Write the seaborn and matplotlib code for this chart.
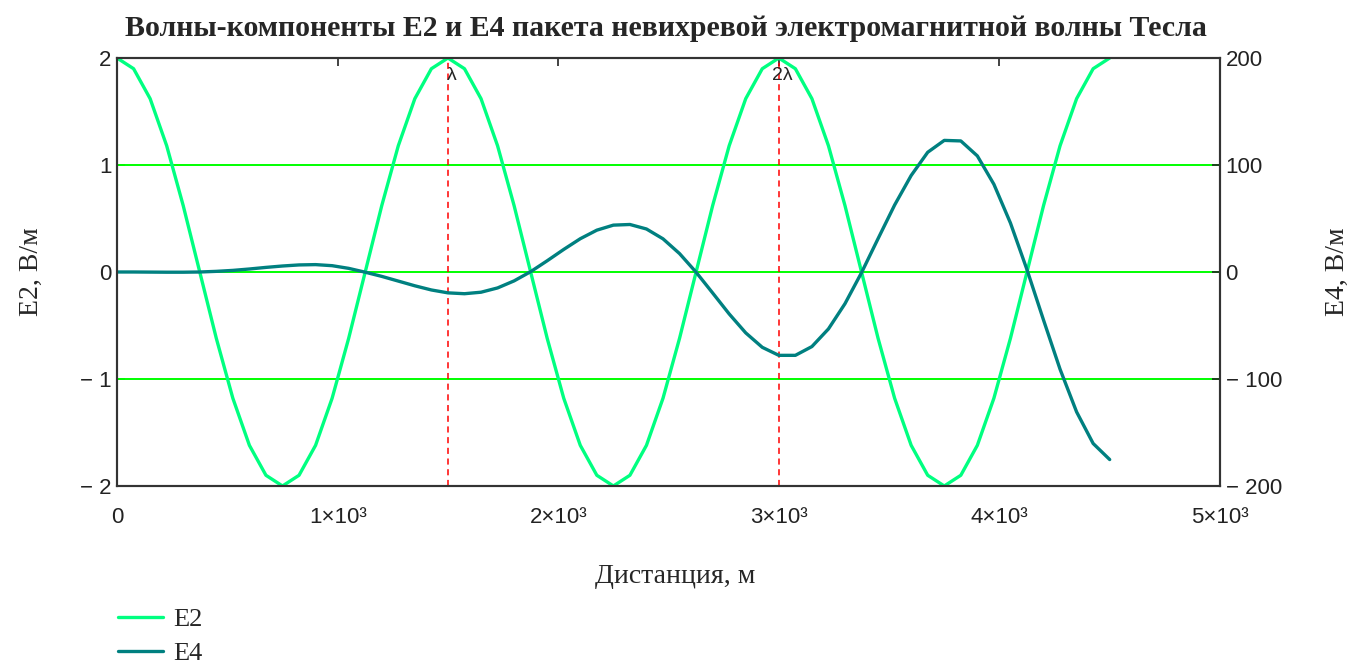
import matplotlib
matplotlib.use("Agg")
import matplotlib.pyplot as plt
import pandas as pd
import seaborn as sns

# distance samples, m
distance = [0, 75, 150, 225, 300, 375, 450, 525, 600, 675,
            750, 825, 900, 975, 1050, 1125, 1200, 1275, 1350, 1425,
            1500, 1575, 1650, 1725, 1800, 1875, 1950, 2025, 2100, 2175,
            2250, 2325, 2400, 2475, 2550, 2625, 2700, 2775, 2850, 2925,
            3000, 3075, 3150, 3225, 3300, 3375, 3450, 3525, 3600, 3675,
            3750, 3825, 3900, 3975, 4050, 4125, 4200, 4275, 4350, 4425,
            4500]

# E2, V/m (left axis)
e2 = [2.00, 1.90, 1.62, 1.18, 0.62, 0.00, -0.62, -1.18, -1.62, -1.90,
      -2.00, -1.90, -1.62, -1.18, -0.62, 0.00, 0.62, 1.18, 1.62, 1.90,
      2.00, 1.90, 1.62, 1.18, 0.62, 0.00, -0.62, -1.18, -1.62, -1.90,
      -2.00, -1.90, -1.62, -1.18, -0.62, 0.00, 0.62, 1.18, 1.62, 1.90,
      2.00, 1.90, 1.62, 1.18, 0.62, 0.00, -0.62, -1.18, -1.62, -1.90,
      -2.00, -1.90, -1.62, -1.18, -0.62, 0.00, 0.62, 1.18, 1.62, 1.90,
      2.00]

# E4, V/m (right axis)
e4 = [0.0, 0.0, -0.1, -0.2, -0.2, 0.0, 0.6, 1.5, 2.8, 4.3,
      5.6, 6.6, 6.9, 5.9, 3.4, -0.2, -4.1, -8.5, -12.9, -16.8,
      -19.5, -20.3, -18.9, -14.9, -8.3, 0.3, 10.5, 21.1, 31.1, 39.1,
      43.8, 44.4, 40.2, 31.0, 17.2, -0.2, -19.6, -39.2, -56.9, -70.4,
      -77.9, -77.9, -69.7, -53.2, -29.6, -0.6, 31.2, 62.6, 90.2, 111.9,
      123.0, 122.5, 108.5, 82.0, 45.8, 2.2, -44.9, -90.9, -130.8, -160.3,
      -175.3]

lambda_marks = [1500, 3000]
lambda_labels = ["λ", "2λ"]

x_ticks = [0, 1000, 2000, 3000, 4000, 5000]
x_tick_labels = ["0", "1×10³", "2×10³", "3×10³", "4×10³", "5×10³"]
e2_ticks = [-2, -1, 0, 1, 2]
e2_tick_labels = ["\u2212 2", "\u2212 1", "0", "1", "2"]
e4_ticks = [-200, -100, 0, 100, 200]
e4_tick_labels = ["\u2212 200", "\u2212 100", "0", "100", "200"]

df = pd.DataFrame({"distance": distance, "E2": e2, "E4": e4})

sns.set_theme(style="white")
plt.rcParams["font.family"] = ["Liberation Serif", "DejaVu Serif"]

fig = plt.figure(figsize=(13.5, 6.66), dpi=100)
ax = fig.add_axes([0.0867, 0.2703, 0.8170, 0.6426])
ax2 = ax.twinx()

sns.lineplot(data=df, x="distance", y="E2", ax=ax, color="#00ff80",
             linewidth=2.4, estimator=None, label="E2", legend=False)
sns.lineplot(data=df, x="distance", y="E4", ax=ax2, color="#008080",
             linewidth=2.4, estimator=None, label="E4", legend=False)
e2_line = ax.get_lines()[0]
e4_line = ax2.get_lines()[0]

for y in [-1, 0, 1]:
    ax.axhline(y, color="#00ff00", linewidth=1.4, zorder=1)

for x, lab in zip(lambda_marks, lambda_labels):
    ax.axvline(x, color="red", linestyle=(0, (4, 3)), linewidth=1.1, zorder=1.5)
    ax.text(x + 15, 1.92, lab, ha="center", va="top", fontsize=14,
            family="Liberation Sans", zorder=5)

ax.set_xlim(0, 5000)
ax.set_ylim(-2, 2)
ax2.set_ylim(-200, 200)

sans = {"family": "Liberation Sans", "size": 16}
ax.set_xticks(x_ticks)
ax.set_xticklabels(x_tick_labels, fontdict=sans)
ax.set_yticks(e2_ticks)
ax.set_yticklabels(e2_tick_labels, fontdict=sans)
ax2.set_yticks(e4_ticks)
ax2.set_yticklabels(e4_tick_labels, fontdict=sans)

ax.tick_params(axis="x", direction="in", length=6, width=1.2, top=True,
               pad=15, colors="#222222")
ax.tick_params(axis="y", direction="in", length=6, width=1.2, pad=4,
               colors="#222222")
ax2.tick_params(axis="y", direction="in", length=6, width=1.2, pad=4,
                colors="#222222")
ax.set_xlabel("")
ax.set_ylabel("")
ax2.set_ylabel("")

for a in (ax, ax2):
    for s in a.spines.values():
        s.set_color("#333333")
        s.set_linewidth(1.5)

fig.text(0.493, 0.957, "Волны-компоненты Е2 и Е4 пакета невихревой электромагнитной волны Тесла",
         ha="center", va="center", fontsize=21.5, fontweight="bold")
fig.text(0.500, 0.135, "Дистанция, м", ha="center", va="center", fontsize=20)
fig.text(0.023, 0.592, "E2, В/м", ha="center", va="center", rotation=90, fontsize=20)
fig.text(0.991, 0.592, "E4, В/м", ha="center", va="center", rotation=90, fontsize=20)

fig.legend(handles=[e2_line, e4_line], labels=["E2", "E4"], loc="upper left",
           bbox_to_anchor=(0.0874, 0.088), frameon=False, fontsize=19,
           borderpad=0, borderaxespad=0, handlelength=1.7, handletextpad=0.4,
           labelspacing=0.4)

fig.savefig("out.png", dpi=100)
